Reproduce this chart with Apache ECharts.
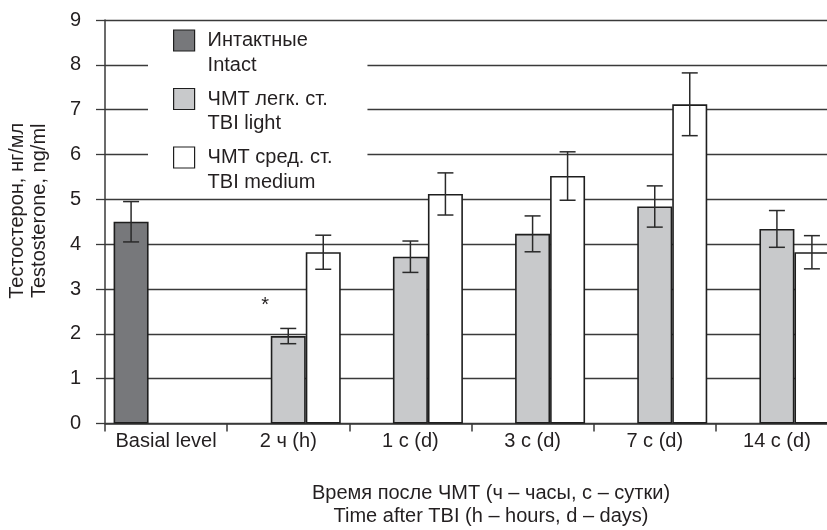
<!DOCTYPE html>
<html>
<head>
<meta charset="utf-8">
<script src="https://cdn.jsdelivr.net/npm/echarts@6/dist/echarts.min.js"></script>
<style>
html,body{margin:0;padding:0;background:#fff;}
#chart{width:827px;height:530px;}
</style>
</head>
<body>
<div id="chart"></div>
<script>
// ---- data ----
var categories = ['Basial level', '2 ч (h)', '1 с (d)', '3 с (d)', '7 с (d)', '14 с (d)'];
var seriesNames = ['Интактные\nIntact', 'ЧМТ легк. ст.\nTBI light', 'ЧМТ сред. ст.\nTBI medium'];
var intactValues = [4.5, null, null, null, null, null];
var intactErrors = [0.45, null, null, null, null, null];
var lightValues = [null, 1.95, 3.72, 4.23, 4.84, 4.34];
var lightErrors = [null, 0.17, 0.35, 0.40, 0.46, 0.41];
var mediumValues = [null, 3.82, 5.12, 5.52, 7.12, 3.82];
var mediumErrors = [null, 0.38, 0.47, 0.54, 0.70, 0.37];
var yTicks = [0, 1, 2, 3, 4, 5, 6, 7, 8, 9];
var asteriskPoint = ['2 ч (h)', 2.72];
var yAxisTitle = 'Тестостерон, нг/мл\nTestosterone, ng/ml';
var xAxisTitle = 'Время после ЧМТ (ч – часы, с – сутки)\nTime after TBI (h – hours, d – days)';

// ---- style ----
var FONT = 'Liberation Sans, Arial, sans-serif';
var TXT = '#231f20';
var LINE = '#3a3a3a';
var BAR_W = 35;
var fills = ['#77787b', '#c8c9cb', '#ffffff'];

var chart = echarts.init(document.getElementById('chart'), null, {renderer: 'canvas'});

function barSeries(idx, values, extra) {
  var s = {
    type: 'bar',
    name: seriesNames[idx],
    data: values.map(function (v) { return v == null ? '-' : v; }),
    barWidth: BAR_W,
    barGap: '0%',
    itemStyle: {color: fills[idx], borderColor: '#1e1e1e', borderWidth: 1.6},
    emphasis: {disabled: true},
    z: 2
  };
  if (extra) for (var k in extra) s[k] = extra[k];
  return s;
}

function errSeries(idx, values, errors) {
  var data = [];
  values.forEach(function (v, i) {
    if (v != null) data.push([i, v - errors[i], v + errors[i]]);
  });
  return {
    type: 'custom',
    name: 'err' + idx,
    data: data,
    z: 5,
    silent: true,
    encode: {x: 0, y: [1, 2]},
    renderItem: function (params, api) {
      var lo = api.coord([api.value(0), api.value(1)]);
      var hi = api.coord([api.value(0), api.value(2)]);
      var x = lo[0] + (idx - 1) * BAR_W;
      var cap = 8;
      var st = {stroke: '#2a2a2a', lineWidth: 1.5, fill: null};
      return {
        type: 'group',
        children: [
          {type: 'line', shape: {x1: x, y1: lo[1], x2: x, y2: hi[1]}, style: st},
          {type: 'line', shape: {x1: x - cap, y1: lo[1], x2: x + cap, y2: lo[1]}, style: st},
          {type: 'line', shape: {x1: x - cap, y1: hi[1], x2: x + cap, y2: hi[1]}, style: st}
        ]
      };
    }
  };
}

var option = {
  animation: false,
  backgroundColor: '#fff',
  textStyle: {fontFamily: FONT},
  grid: {left: 105, top: 20, width: 733, height: 403.5, containLabel: false, outerBoundsMode: 'none'},
  legend: {
    orient: 'vertical',
    left: 148,
    top: 23,
    data: seriesNames,
    icon: 'rect',
    backgroundColor: '#fff',
    padding: [-19.25, 35, 0, 25],
    itemWidth: 21,
    itemHeight: 21,
    itemGap: -15,
    selectedMode: false,
    formatter: function (name) { return ' \n' + name; },
    itemStyle: {borderColor: '#1e1e1e', borderWidth: 1.2},
    textStyle: {fontFamily: FONT, fontSize: 20, color: TXT, lineHeight: 24.5, padding: [0, 0, 0, 8]}
  },
  xAxis: {
    type: 'category',
    data: categories,
    boundaryGap: true,
    axisLine: {lineStyle: {color: LINE, width: 1.5}},
    axisTick: {show: true, length: 8, lineStyle: {color: LINE, width: 1.5}},
    axisLabel: {fontFamily: FONT, fontSize: 20, color: TXT, margin: 8, interval: 0},
    splitLine: {show: false},
    name: xAxisTitle,
    nameLocation: 'middle',
    nameGap: 58,
    nameTextStyle: {fontFamily: FONT, fontSize: 20, color: TXT, lineHeight: 23, padding: [0, 0, 0, 39]}
  },
  yAxis: {
    type: 'value',
    min: yTicks[0],
    max: yTicks[yTicks.length - 1],
    interval: 1,
    axisLine: {show: true, lineStyle: {color: LINE, width: 1.5}},
    axisTick: {show: true, length: 9, lineStyle: {color: LINE, width: 1.3}},
    axisLabel: {fontFamily: FONT, fontSize: 20, color: TXT, margin: 24},
    splitLine: {show: true, lineStyle: {color: LINE, width: 1.3}},
    name: yAxisTitle,
    nameLocation: 'middle',
    nameGap: 55,
    nameTextStyle: {fontFamily: FONT, fontSize: 20, color: TXT, lineHeight: 22, padding: [0, 0, 0, 22]}
  },
  series: [
    barSeries(0, intactValues),
    barSeries(1, lightValues, {
      markPoint: {
        symbol: 'circle',
        symbolSize: 1,
        itemStyle: {color: 'rgba(0,0,0,0)'},
        silent: true,
        label: {show: true, formatter: '*', position: 'inside', offset: [-23, 4], color: TXT, fontSize: 20, fontFamily: FONT},
        data: [{coord: asteriskPoint}]
      }
    }),
    barSeries(2, mediumValues),
    errSeries(0, intactValues, intactErrors),
    errSeries(1, lightValues, lightErrors),
    errSeries(2, mediumValues, mediumErrors)
  ]
};
chart.setOption(option);
</script>
</body>
</html>
